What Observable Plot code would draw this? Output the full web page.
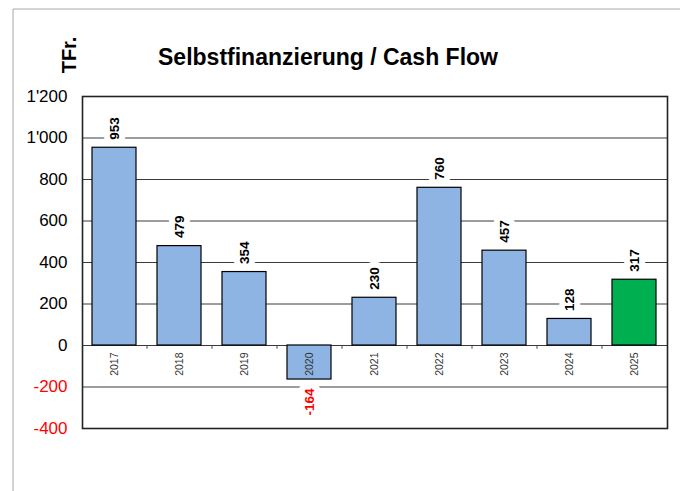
<!DOCTYPE html>
<html>
<head>
<meta charset="utf-8">
<script src="https://cdn.jsdelivr.net/npm/d3@7"></script>
<script src="https://cdn.jsdelivr.net/npm/@observablehq/plot@0.6"></script>
<style>
  html, body { margin: 0; padding: 0; background: #fff; }
</style>
</head>
<body>
<div id="chart"></div>
<script>
const years = ["2017", "2018", "2019", "2020", "2021", "2022", "2023", "2024", "2025"];
const values = [953, 479, 354, -164, 230, 760, 457, 128, 317];
const yTicks = [-400, -200, 0, 200, 400, 600, 800, 1000, 1200];
const title = "Selbstfinanzierung / Cash Flow";
const unitLabel = "TFr.";
const highlightYear = "2025";

const data = years.map((year, i) => ({year, value: values[i]}));
const fmt = n => String(n).replace(/\B(?=(\d{3})+(?!\d))/g, "'");

const chart = Plot.plot({
  width: 680,
  height: 491,
  marginLeft: 82,
  marginRight: 13,
  marginTop: 96,
  marginBottom: 63,
  style: {fontFamily: "'Liberation Sans', Arial, sans-serif", background: "white", overflow: "visible"},
  x: {domain: years, paddingInner: 0.32, paddingOuter: 0.16, axis: null},
  y: {domain: [-400, 1200], axis: null},
  marks: [
    Plot.ruleY(yTicks, {y: d => d, stroke: "#3a3a3a", strokeWidth: 1}),
    Plot.barY(data, {
      x: "year", y: "value",
      fill: d => d.year === highlightYear ? "#00B050" : "#8EB4E3",
      stroke: "#000", strokeWidth: 1.2
    }),
    Plot.ruleX(years.slice(0, -1), {x: d => d, y1: 0, y2: -18, dx: 32.5, stroke: "#444", strokeWidth: 1}),
    Plot.text(years, {
      x: d => d, y: () => 0, text: d => d, rotate: -90, textAnchor: "end",
      dy: 7, fontSize: 10.5, fill: "#333"
    }),
    Plot.text(data.filter(d => d.value >= 0), {
      x: "year", y: "value", text: d => fmt(d.value), rotate: -90, textAnchor: "start",
      dy: -8, fontSize: 13.5, fontWeight: "bold", fill: "#000",
      stroke: "white", strokeWidth: 12
    }),
    Plot.text(data.filter(d => d.value < 0), {
      x: "year", y: "value", text: d => fmt(d.value), rotate: -90, textAnchor: "end",
      dy: 9, fontSize: 13.5, fontWeight: "bold", fill: "#FF0000",
      stroke: "white", strokeWidth: 12
    }),
    Plot.frame({stroke: "#222", strokeWidth: 1.6}),
    Plot.text(yTicks, {
      y: d => d, text: d => fmt(d), frameAnchor: "left", dx: -15, textAnchor: "end",
      fontSize: 17, fill: d => d < 0 ? "#FF0000" : "#000"
    })
  ]
});

const svg = d3.select(chart);
svg.insert("path", ":first-child")
  .attr("d", "M13,491 V9 H680")
  .attr("fill", "none")
  .attr("stroke", "#a8a8a8")
  .attr("stroke-width", 1);
svg.append("text")
  .attr("x", 328).attr("y", 65)
  .attr("text-anchor", "middle")
  .attr("font-size", 23).attr("font-weight", "bold")
  .attr("font-family", "'Liberation Sans', Arial, sans-serif")
  .attr("fill", "#000")
  .text(title);
svg.append("text")
  .attr("transform", "translate(76,55) rotate(-90)")
  .attr("text-anchor", "middle")
  .attr("font-size", 20).attr("font-weight", "bold")
  .attr("font-family", "'Liberation Sans', Arial, sans-serif")
  .attr("fill", "#000")
  .text(unitLabel);

document.getElementById("chart").appendChild(chart);
</script>
</body>
</html>
